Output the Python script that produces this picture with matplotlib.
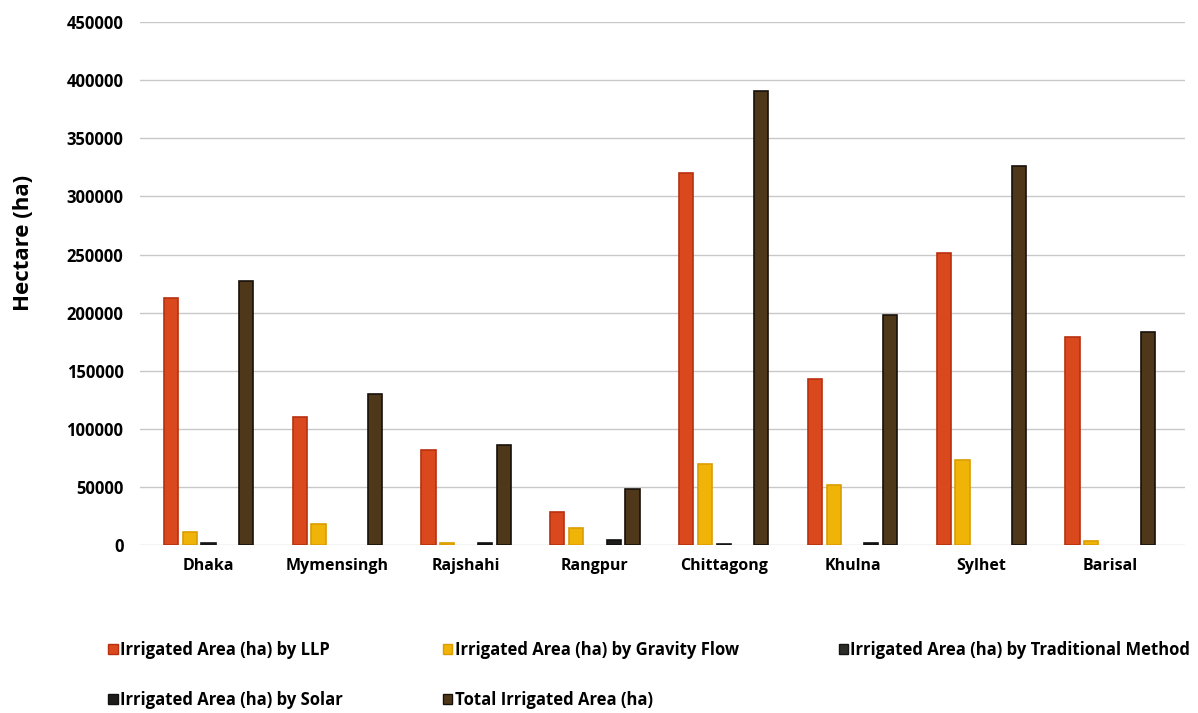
import numpy as np
import matplotlib.pyplot as plt
from matplotlib.patches import Patch

plt.rcParams['font.family'] = ['Open Sans', 'DejaVu Sans']

divisions = ["Dhaka", "Mymensingh", "Rajshahi", "Rangpur", "Chittagong", "Khulna", "Sylhet", "Barisal"]

llp = [213000, 110000, 82000, 28000, 320000, 143000, 251000, 179000]
gravity = [11500, 18500, 2000, 14500, 70000, 52000, 73000, 3500]
traditional = [1500, 0, 0, 0, 1000, 0, 0, 0]
solar = [0, 0, 2000, 4000, 0, 2000, 0, 0]
total = [227000, 130000, 86000, 48000, 391000, 198000, 326000, 183000]

series_names = ["Irrigated Area (ha) by LLP",
                "Irrigated Area (ha) by Gravity Flow",
                "Irrigated Area (ha) by Traditional Method",
                "Irrigated Area (ha) by Solar",
                "Total Irrigated Area (ha)"]
yticks = [0, 50000, 100000, 150000, 200000, 250000, 300000, 350000, 400000, 450000]

fill = ['#d9491d', '#f0b408', '#2c2c28', '#1f1d1a', '#4e3819']
edge = ['#b8300f', '#dc9c00', '#151515', '#111111', '#17110a']

fig = plt.figure(figsize=(11.98, 7.13), dpi=100)
ax = fig.add_axes([0.117, 0.2356, 0.872, 0.7334])

x = np.arange(len(divisions))
step = 0.146
bw = 0.11
handles = []
for i, vals in enumerate([llp, gravity, traditional, solar, total]):
    v = np.array(vals, dtype=float)
    v[v == 0] = np.nan  # empty cells: no bar at all
    ax.bar(x + (i - 2) * step, v, width=bw, color=fill[i], edgecolor=edge[i],
           linewidth=1.2, zorder=3)
    handles.append(Patch(facecolor=fill[i], edgecolor=edge[i], label=series_names[i]))

ax.set_xlim(-0.53, 7.58)
ax.set_ylim(0, 450000)
ax.set_yticks(yticks)
ax.set_yticklabels([str(v) for v in yticks], fontsize=12, fontweight='bold')
ax.set_xticks(x)
ax.set_xticklabels(divisions, fontsize=11.5, fontweight='bold')
ax.tick_params(axis='both', length=0)
ax.tick_params(axis='y', pad=12)
ax.tick_params(axis='x', pad=9)
ax.grid(axis='y', color='#c8c8c8', linewidth=1, zorder=0)
for s in ax.spines.values():
    s.set_visible(False)
ax.set_ylabel("Hectare (ha)", fontsize=16, fontweight='bold')
ax.yaxis.set_label_coords(-0.102, 0.577)

order = [0, 3, 1, 4, 2]
fig.legend([handles[k] for k in order], [series_names[k] for k in order],
           ncol=3, loc='upper left', bbox_to_anchor=(0.078, 0.122),
           frameon=False, prop={'weight': 'bold', 'size': 12},
           handlelength=0.55, handleheight=0.55, handletextpad=0.15,
           columnspacing=6.0, labelspacing=1.9)

plt.savefig("out.png", dpi=100)
